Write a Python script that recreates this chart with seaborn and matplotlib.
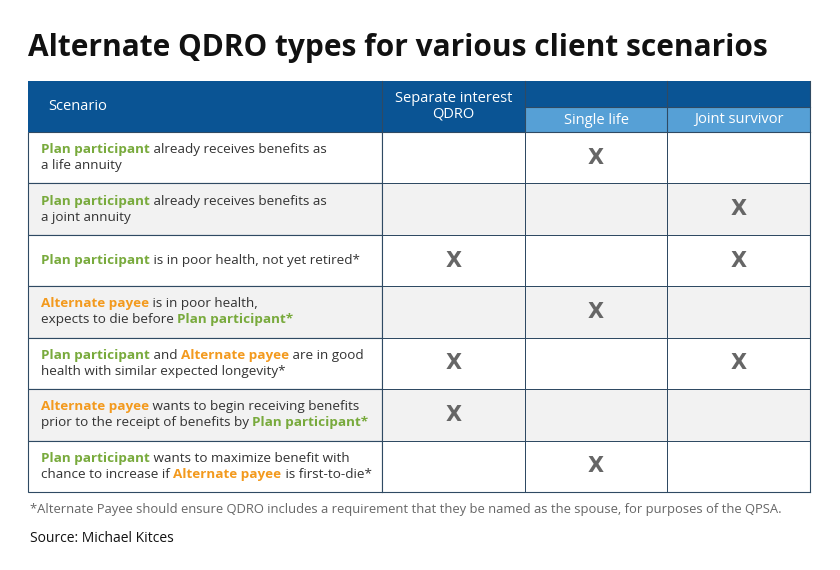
import numpy as np
import pandas as pd
import seaborn as sns
import matplotlib.pyplot as plt
from matplotlib.colors import ListedColormap
from matplotlib.patches import Rectangle

# === data ===
title = "Alternate QDRO types for various client scenarios"
columns = ["Separate interest\nQDRO", "Single life", "Joint survivor"]
# each scenario: list of (text, style) segments per line; g=green bold, o=orange bold, n=normal
scenarios = [
    [[("Plan participant", "g"), (" already receives benefits as", "n")], [("a life annuity", "n")]],
    [[("Plan participant", "g"), (" already receives benefits as", "n")], [("a joint annuity", "n")]],
    [[("Plan participant", "g"), (" is in poor health, not yet retired*", "n")]],
    [[("Alternate payee", "o"), (" is in poor health,", "n")],
     [("expects to die before ", "n"), ("Plan participant*", "g")]],
    [[("Plan participant", "g"), (" and ", "n"), ("Alternate payee", "o"), (" are in good", "n")],
     [("health with similar expected longevity*", "n")]],
    [[("Alternate payee", "o"), (" wants to begin receiving benefits", "n")],
     [("prior to the receipt of benefits by ", "n"), ("Plan participant*", "g")]],
    [[("Plan participant", "g"), (" wants to maximize benefit with", "n")],
     [("chance to increase if ", "n"), ("Alternate payee", "o"), (" is first-to-die*", "n")]],
]
separate = [0, 0, 1, 0, 1, 1, 0]
single = [1, 0, 0, 1, 0, 0, 1]
joint = [0, 1, 1, 0, 1, 0, 0]
footnote = "*Alternate Payee should ensure QDRO includes a requirement that they be named as the spouse, for purposes of the QPSA."
source = "Source: Michael Kitces"

FONT = "Open Sans"
BLUE, LBLUE, LINE = "#0a5494", "#56a0d6", "#2f4a63"
GREEN, ORANGE, TXT = "#78aa3c", "#f39a1e", "#333333"
W, H = 840, 570
x0, x1, xs = 28, 810, 382
ytop, ysub, ybody, ybot = 81, 107, 132, 492

fig = plt.figure(figsize=(W / 100, H / 100), dpi=100)
ax = fig.add_axes([0, 0, 1, 1])
ax.set_xlim(0, W)
ax.set_ylim(H, 0)
ax.axis("off")

# === body grid for X columns via seaborn heatmap ===
n = len(scenarios)
marks = pd.DataFrame({"sep": separate, "single": single, "joint": joint})
shade = np.array([[i % 2] * 3 for i in range(n)])
annot = marks.map(lambda v: "X" if v else "")
hax = fig.add_axes([xs / W, 1 - ybot / H, (x1 - xs) / W, (ybot - ybody) / H])
sns.heatmap(shade, ax=hax, cmap=ListedColormap(["white", "#f2f2f2"]), cbar=False,
            annot=annot.values, fmt="", linewidths=0.5, linecolor=LINE,
            annot_kws={"fontsize": 15, "fontweight": "bold", "color": "#666666", "family": "DejaVu Sans"})
hax.set_xticks([])
hax.set_yticks([])
for s in hax.spines.values():
    s.set_visible(True)
    s.set_color(LINE)
    s.set_linewidth(0.8)

# === scenario column ===
rh = (ybot - ybody) / n
for i in range(n):
    y = ybody + i * rh
    ax.add_patch(Rectangle((x0, y), xs - x0, rh, facecolor="#f2f2f2" if i % 2 else "white",
                           edgecolor=LINE, lw=0.8))

# === header ===
ax.add_patch(Rectangle((x0, ytop), x1 - x0, ybody - ytop, facecolor=BLUE, edgecolor="none"))
cw = (x1 - xs) / 3
ax.add_patch(Rectangle((xs + cw, ysub), 2 * cw, ybody - ysub, facecolor=LBLUE, edgecolor="none"))
for k in range(4):
    xx = xs + k * cw
    ax.plot([xx, xx], [ytop, ybody], color=LINE, lw=0.8)
ax.plot([xs + cw, x1], [ysub, ysub], color=LINE, lw=0.8)
hfont = dict(family=FONT, fontsize=10.5, color="white")
ax.text(48, 106, "Scenario", va="center", ha="left", **hfont)
ax.text(xs + cw / 2, 106, columns[0], va="center", ha="center", linespacing=1.0, **hfont)
ax.text(xs + 1.5 * cw, 120, columns[1], va="center", ha="center", **hfont)
ax.text(xs + 2.5 * cw, 120, columns[2], va="center", ha="center", **hfont)

# === title, rich text ===
ax.text(28, 48, title, family=FONT, fontsize=21.5, fontweight="bold",
        color="#111111", va="center", ha="left")

fig.canvas.draw()
renderer = fig.canvas.get_renderer()
styles = {"g": (GREEN, "bold"), "o": (ORANGE, "bold"), "n": (TXT, "normal")}
for i, lines in enumerate(scenarios):
    yc = ybody + (i + 0.5) * rh
    nl = len(lines)
    for j, segs in enumerate(lines):
        y = yc + (j - (nl - 1) / 2) * 16
        x = 41
        for txt, st in segs:
            col, wt = styles[st]
            t = ax.text(x, y, txt, family=FONT, fontsize=9.7, color=col, fontweight=wt,
                        va="center", ha="left")
            x += t.get_window_extent(renderer).width

ax.text(30, 510, footnote, family=FONT, fontsize=9.4, color="#666666", va="center", ha="left")
ax.text(30, 539, source, family=FONT, fontsize=10, color="#111111", va="center", ha="left")

fig.savefig("out.png", dpi=100)
